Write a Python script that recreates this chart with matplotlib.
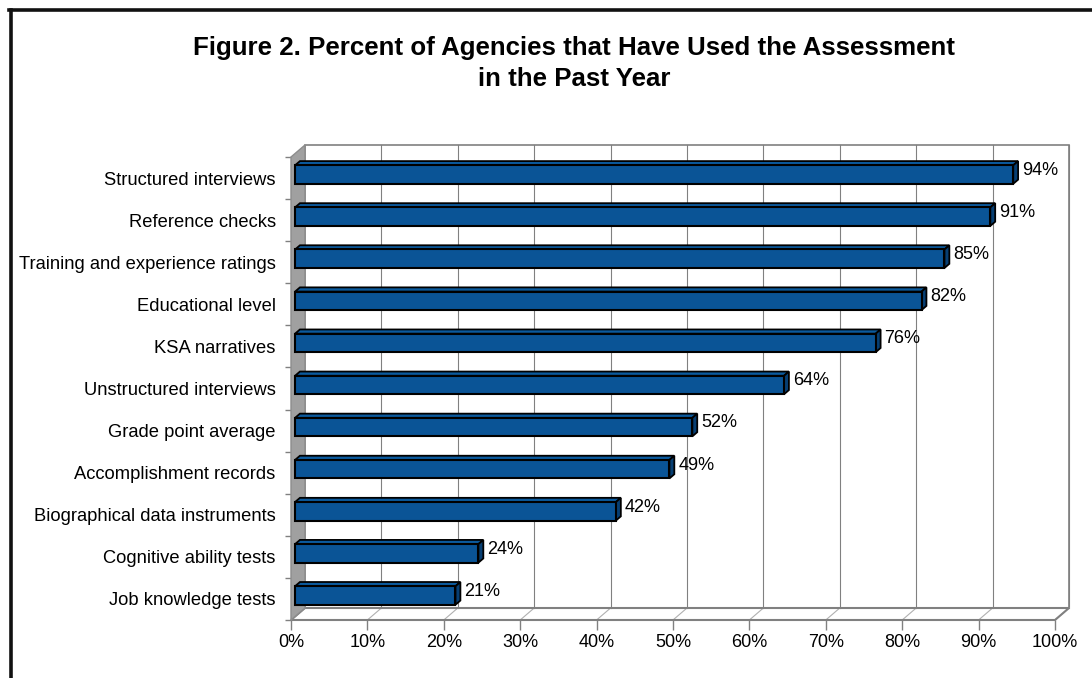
import matplotlib
matplotlib.use("Agg")
import matplotlib.pyplot as plt
from matplotlib.patches import Polygon, Rectangle

plt.rcParams['font.family'] = ['Liberation Sans', 'DejaVu Sans']

# data (top to bottom)
assessments = ['Structured interviews', 'Reference checks', 'Training and experience ratings',
               'Educational level', 'KSA narratives', 'Unstructured interviews',
               'Grade point average', 'Accomplishment records', 'Biographical data instruments',
               'Cognitive ability tests', 'Job knowledge tests']
percent_used = [94, 91, 85, 82, 76, 64, 52, 49, 42, 24, 21]
x_ticks = [0, 10, 20, 30, 40, 50, 60, 70, 80, 90, 100]

fig = plt.figure(figsize=(10.92, 6.78), dpi=100)
ax = fig.add_axes([291 / 1092, 58 / 678, 764 / 1092, 463 / 678])
n = len(assessments)
ax.set_xlim(0, 100)
ax.set_ylim(0, n)

# fake 3d depth (data units)
dx, dy = 1.83, 0.285
grid_col = '#808080'

# back wall
ax.add_patch(Rectangle((dx, dy), 100, n, facecolor='white', edgecolor=grid_col,
                       lw=1.2, clip_on=False, zorder=1))
for t in x_ticks[1:]:
    ax.plot([t + dx, t + dx], [dy, n + dy], color=grid_col, lw=0.8, clip_on=False, zorder=2)
    ax.plot([t, t + dx], [0, dy], color='#b0b0b0', lw=0.8, clip_on=False, zorder=2)
# floor and left wall
ax.add_patch(Polygon([(0, 0), (100, 0), (100 + dx, dy), (dx, dy)], closed=True,
                     facecolor='none', edgecolor=grid_col, lw=1.5, clip_on=False, zorder=3))
ax.add_patch(Polygon([(0, 0), (dx, dy), (dx, n + dy), (0, n)], closed=True,
                     facecolor='#a0a0a0', edgecolor='#8c8c8c', lw=1, clip_on=False, zorder=3))

# bars
f, b, h = 0.29, 0.64, 0.44
for i, (name, v) in enumerate(zip(assessments, percent_used)):
    c = n - 0.5 - i
    x0f, x1f = f * dx, v + f * dx
    x0b, x1b = b * dx, v + b * dx
    y0f, y1f = c - h / 2 + f * dy, c + h / 2 + f * dy
    y0b, y1b = c - h / 2 + b * dy, c + h / 2 + b * dy
    ax.add_patch(Polygon([(x0f, y1f), (x1f, y1f), (x1b, y1b), (x0b, y1b)], closed=True,
                         facecolor='#0b5a9e', edgecolor='black', lw=1.3, clip_on=False, zorder=5))
    ax.add_patch(Polygon([(x1f, y0f), (x1f, y1f), (x1b, y1b), (x1b, y0b)], closed=True,
                         facecolor='#073f73', edgecolor='black', lw=1.3, clip_on=False, zorder=5))
    ax.add_patch(Rectangle((x0f, y0f), v, h, facecolor='#0a5496', edgecolor='black',
                           lw=1.5, clip_on=False, zorder=6))
    ax.text(x1b + 0.5, c + b * dy, f'{v}%', ha='left', va='center', fontsize=13, zorder=7)

# axes and ticks
for s in ax.spines.values():
    s.set_visible(False)
ax.set_xticks(x_ticks)
ax.set_xticklabels([f'{t}%' for t in x_ticks], fontsize=13)
ax.tick_params(axis='x', length=7, width=1, color=grid_col, pad=3)
ax.set_yticks(range(n + 1))
ax.set_yticklabels([])
ax.tick_params(axis='y', which='major', length=4.5, width=1, color=grid_col)
ax.set_yticks([n - 0.5 - i for i in range(n)], minor=True)
ax.set_yticklabels(assessments, minor=True, fontsize=13.2)
ax.tick_params(axis='y', which='minor', length=0, pad=11)
ax.patch.set_visible(False)

fig.text(574 / 1092, 1 - 63.5 / 678, 'Figure 2. Percent of Agencies that Have Used the Assessment\nin the Past Year',
         ha='center', va='center', fontsize=18.6, fontweight='bold', linespacing=1.42)

# outer frame (left and top)
fig.add_artist(plt.Line2D([10.5 / 1092, 10.5 / 1092], [0, 1 - 9.5 / 678], color='#111111', lw=2.6))
fig.add_artist(plt.Line2D([9 / 1092, 1], [1 - 9.5 / 678, 1 - 9.5 / 678], color='#111111', lw=2.6))

fig.savefig('out.png', dpi=100)
